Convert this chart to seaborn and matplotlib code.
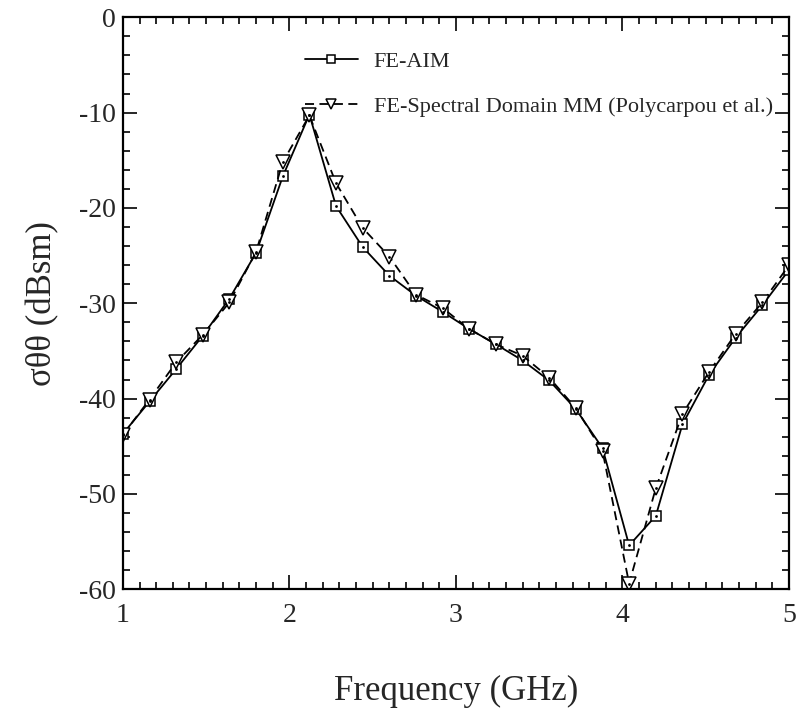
import numpy as np
import pandas as pd
import matplotlib
matplotlib.use("Agg")
import matplotlib.pyplot as plt
import seaborn as sns
from matplotlib.ticker import MultipleLocator

freq = [1.00, 1.16, 1.32, 1.48, 1.64, 1.80, 1.96, 2.12, 2.28, 2.44, 2.60, 2.76, 2.92,
        3.08, 3.24, 3.40, 3.56, 3.72, 3.88, 4.04, 4.20, 4.36, 4.52, 4.68, 4.84, 5.00]
fe_aim = [-43.7, -40.3, -36.9, -33.4, -29.5, -24.7, -16.7, -10.2, -19.8, -24.1, -27.1, -29.2, -30.9,
          -32.7, -34.3, -36.0, -38.1, -41.1, -45.2, -55.4, -52.3, -42.7, -37.5, -33.6, -30.2, -26.5]
fe_sdmm = [-43.8, -40.1, -36.2, -33.3, -29.9, -24.6, -15.2, -10.3, -17.4, -22.1, -25.1, -29.1, -30.5,
           -32.7, -34.3, -35.5, -37.8, -41.0, -45.5, -59.4, -49.4, -41.6, -37.2, -33.2, -29.9, -26.0]

lab_aim = "FE-AIM"
lab_sdmm = "FE-Spectral Domain MM (Polycarpou et al.)"

df = pd.DataFrame({"freq": freq, "aim": fe_aim, "sdmm": fe_sdmm})

sns.set_theme(style="ticks")
plt.rcParams["font.family"] = ["Liberation Serif", "DejaVu Serif"]
plt.rcParams["axes.unicode_minus"] = False

fig = plt.figure(figsize=(8.03, 7.08), dpi=100)
ax = fig.add_axes([0.153, 0.1677, 0.8296, 0.8079])

sns.lineplot(data=df, x="freq", y="aim", ax=ax, color="black", lw=1.3, marker="s",
             markersize=7.5, markerfacecolor="white", markeredgecolor="black",
             markeredgewidth=1.1, label=lab_aim)
sns.lineplot(data=df, x="freq", y="sdmm", ax=ax, color="black", lw=1.3, marker="v",
             markersize=9.5, markerfacecolor="white", markeredgecolor="black",
             markeredgewidth=1.1, label=lab_sdmm)
ax.lines[-1].set_dashes([5, 3])
# centre dots in the markers
sns.scatterplot(data=df, x="freq", y="aim", ax=ax, color="black", s=4, linewidth=0,
                legend=False, zorder=5)
sns.scatterplot(data=df, x="freq", y="sdmm", ax=ax, color="black", s=4, linewidth=0,
                legend=False, zorder=5)

ax.set_xlim(1, 5)
ax.set_ylim(-60, 0)
ax.xaxis.set_major_locator(MultipleLocator(1))
ax.xaxis.set_minor_locator(MultipleLocator(0.1))
ax.yaxis.set_major_locator(MultipleLocator(10))
ax.yaxis.set_minor_locator(MultipleLocator(2))
ax.tick_params(which="both", direction="in", top=True, right=True, labelsize=20, width=1.4)
ax.tick_params(which="major", length=10)
ax.tick_params(axis="x", which="major", pad=10)
ax.tick_params(axis="y", which="major", pad=5)
ax.tick_params(which="minor", length=5)
for s in ax.spines.values():
    s.set_linewidth(1.6)
    s.set_color("black")

ax.set_xlabel("Frequency (GHz)", fontsize=25, labelpad=34)
ax.set_ylabel("σθθ (dBsm)", fontsize=25, labelpad=14)

leg = ax.legend(loc="upper left", bbox_to_anchor=(0.243, 0.976), frameon=False, fontsize=16,
                handlelength=2.4, handletextpad=0.7, labelspacing=1.1, markerscale=0.8)

fig.savefig("out.png", dpi=100)
